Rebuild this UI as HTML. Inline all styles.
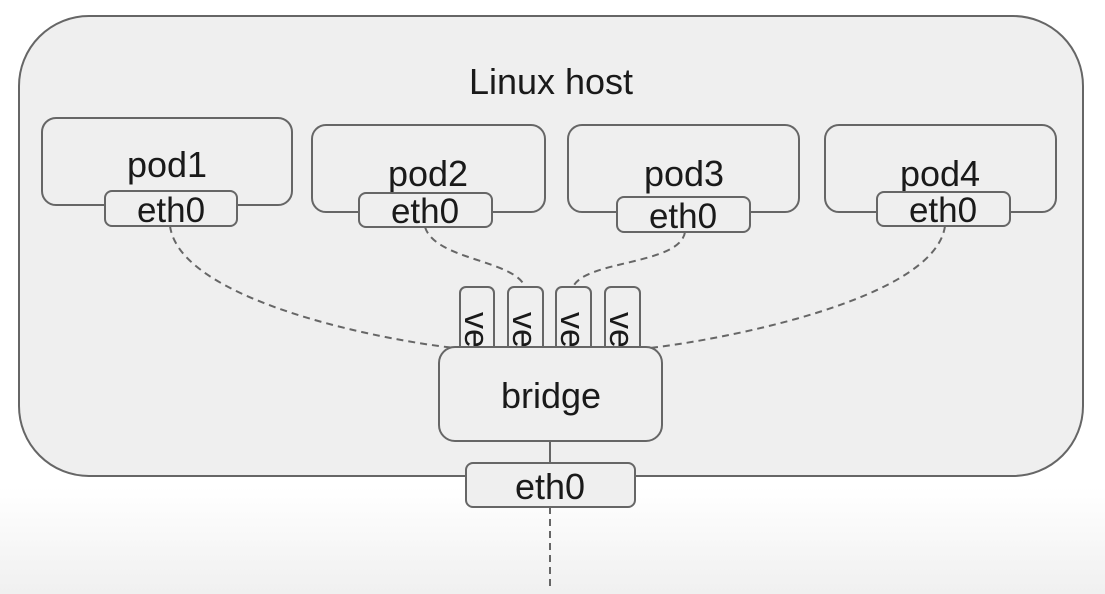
<!DOCTYPE html>
<html><head><meta charset="utf-8"><style>
html,body{margin:0;padding:0;width:1105px;height:594px;overflow:hidden;background:#fff}
svg{display:block}
text{font-family:"Liberation Sans",sans-serif;fill:#1a1a1a}
</style></head><body>
<svg width="1105" height="594" viewBox="0 0 1105 594">
<defs><linearGradient id="bg" x1="0" y1="0" x2="0" y2="1">
<stop offset="0" stop-color="#ffffff"/><stop offset="0.82" stop-color="#ffffff"/><stop offset="1" stop-color="#f0f0f0"/></linearGradient></defs>
<rect width="1105" height="594" fill="url(#bg)"/>
<rect x="19" y="16" width="1064" height="460" rx="70" fill="#efefef" stroke="#666" stroke-width="2"/>
<text x="551" y="94" font-size="36" text-anchor="middle">Linux host</text>
<g fill="none" stroke="#666" stroke-width="2" stroke-dasharray="7,5">
<path d="M170 226 C180 300 380 340 455 348"/>
<path d="M425 227 C435 260 515 260 525 287"/>
<path d="M685 232 C680 265 585 260 573 287"/>
<path d="M945 226 C935 300 720 340 650 348"/>
<path d="M550 507 L550 590"/>
</g>
<g fill="#efefef" stroke="#666" stroke-width="2">
<rect x="42" y="118" width="250" height="87" rx="14"/>
<rect x="312" y="125" width="233" height="87" rx="14"/>
<rect x="568" y="125" width="231" height="87" rx="14"/>
<rect x="825" y="125" width="231" height="87" rx="14"/>
</g>
<g font-size="36" text-anchor="middle">
<text x="167" y="177">pod1</text><text x="428" y="186">pod2</text>
<text x="684" y="186">pod3</text><text x="940" y="186">pod4</text>
</g>
<g fill="#efefef" stroke="#666" stroke-width="2">
<rect x="105" y="191" width="132" height="35" rx="7"/>
<rect x="359" y="193" width="133" height="34" rx="7"/>
<rect x="617" y="197" width="133" height="35" rx="7"/>
<rect x="877" y="192" width="133" height="34" rx="7"/>
</g>
<g font-size="35" text-anchor="middle">
<text x="171" y="222">eth0</text><text x="425" y="223">eth0</text>
<text x="683" y="228">eth0</text><text x="943" y="222">eth0</text>
</g>
<g fill="#efefef" stroke="#666" stroke-width="2">
<rect x="460" y="287" width="34" height="70" rx="6"/>
<rect x="508" y="287" width="35" height="70" rx="6"/>
<rect x="556" y="287" width="35" height="70" rx="6"/>
<rect x="605" y="287" width="35" height="70" rx="6"/>
</g>
<g font-size="34">
<text transform="translate(465,312) rotate(90)">ve</text>
<text transform="translate(513,312) rotate(90)">ve</text>
<text transform="translate(561,312) rotate(90)">ve</text>
<text transform="translate(610,312) rotate(90)">ve</text>
</g>
<rect x="439" y="347" width="223" height="94" rx="16" fill="#efefef" stroke="#666" stroke-width="2"/>
<text x="551" y="408" font-size="36" text-anchor="middle">bridge</text>
<line x1="550" y1="441" x2="550" y2="463" stroke="#666" stroke-width="2"/>
<rect x="466" y="463" width="169" height="44" rx="7" fill="#efefef" stroke="#666" stroke-width="2"/>
<text x="550" y="499" font-size="36" text-anchor="middle">eth0</text>
</svg>
</body></html>
